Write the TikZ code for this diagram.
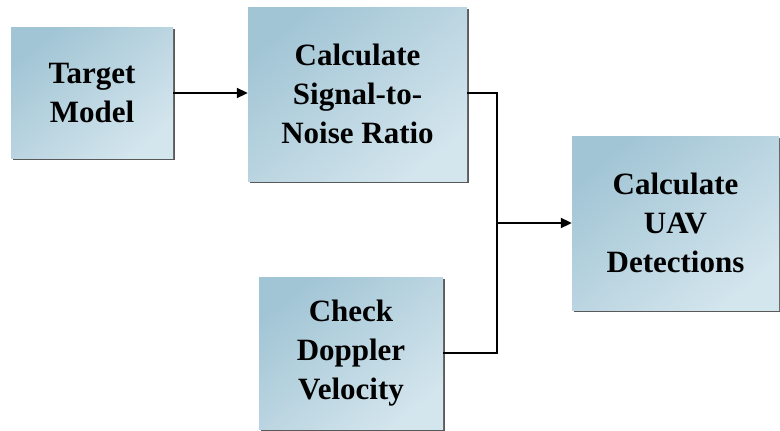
\documentclass[tikz,border=0pt]{standalone}
\usepackage{fontspec}
\setmainfont{Liberation Serif}
\usetikzlibrary{arrows.meta,shadows}
\definecolor{boxdark}{HTML}{A2C5D5}
\definecolor{boxlight}{HTML}{D3E5ED}
\tikzset{
  box/.style={rectangle, inner sep=0pt, align=center,
    font=\fontsize{31}{39}\selectfont\bfseries,
    top color=boxdark, bottom color=boxlight, shading angle=40,
    drop shadow={shadow xshift=1.5pt, shadow yshift=-1.5pt, fill=black!65, opacity=1}},
  link/.style={line width=1.3pt, draw=black},
  arrow/.style={line width=2pt, draw=black, -{Triangle[length=11pt,width=10pt]}}
}
\begin{document}
\begin{tikzpicture}[x=1pt,y=-1pt]
\useasboundingbox (0,0) rectangle (780,431);
\node[box, minimum width=162pt, minimum height=131pt] (tm) at (92,93) {Target\\Model};
\node[box, minimum width=219pt, minimum height=174pt] (snr) at (357.5,94) {Calculate\\Signal-to-\\Noise Ratio};
\node[box, minimum width=207pt, minimum height=174pt] (uav) at (675.5,223) {Calculate\\UAV\\Detections};
\node[box, minimum width=184pt, minimum height=152pt] (dv) at (351,353) {Check\\Doppler\\Velocity};
\coordinate (j) at (497,223);
\coordinate (jt) at (497,93);
\coordinate (jb) at (497,353);
\draw[arrow] (tm.east |- 0,93) -- (snr.west |- 0,93);
\draw[link] (snr.east |- jt) -- (jt) -- (jb) -- (dv.east |- jb);
\draw[arrow] (j) -- (uav.west);
\end{tikzpicture}
\end{document}
